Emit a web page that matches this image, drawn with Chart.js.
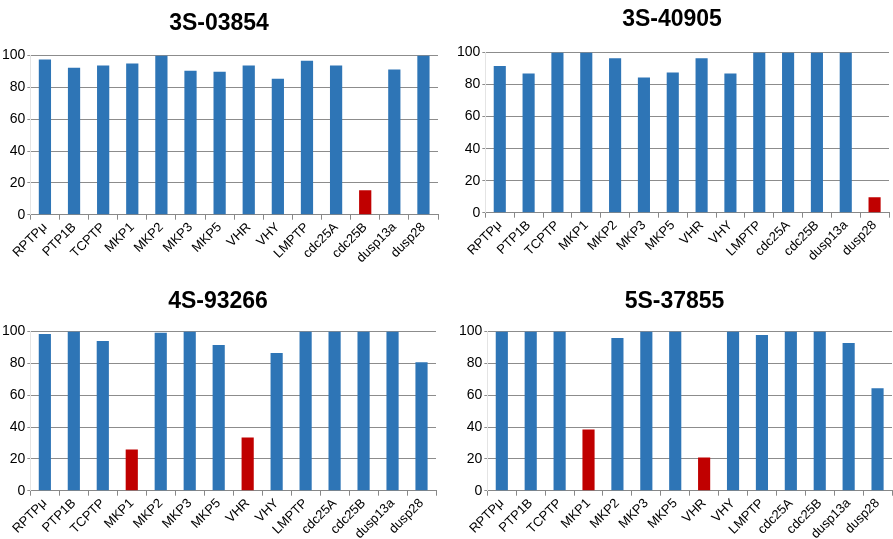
<!DOCTYPE html>
<html lang="en">
<head>
<meta charset="UTF-8">
<title>Inhibition per phosphatase</title>
<script src="https://cdn.jsdelivr.net/npm/chart.js"></script>
<style>
  body { margin: 0; background: #fff; overflow: hidden; }
  .panel { position: absolute; }
</style>
</head>
<body>
<div class="panel" style="left:0;top:0;width:446px;height:270px"><canvas id="c1"></canvas></div>
<div class="panel" style="left:446px;top:0;width:447px;height:270px"><canvas id="c2"></canvas></div>
<div class="panel" style="left:0;top:270px;width:446px;height:272px"><canvas id="c3"></canvas></div>
<div class="panel" style="left:446px;top:270px;width:447px;height:272px"><canvas id="c4"></canvas></div>
<script>
// phosphatases on the x axis (same for all four panels)
var enzymes = ['RPTPμ', 'PTP1B', 'TCPTP', 'MKP1', 'MKP2', 'MKP3', 'MKP5', 'VHR', 'VHY', 'LMPTP', 'cdc25A', 'cdc25B', 'dusp13a', 'dusp28'];
var yTicks = [0, 20, 40, 60, 80, 100];

var titles = ['3S-03854', '3S-40905', '4S-93266', '5S-37855'];

// values
var vals03854 = [97.5, 92.4, 93.7, 95, 100, 90.5, 89.9, 93.7, 85.5, 96.8, 93.7, 15.4, 91.2, 100];
var vals40905 = [91.6, 87, 100, 100, 96.4, 84.5, 87.6, 96.4, 87, 100, 100, 100, 100, 9.6];
var vals93266 = [98.5, 100, 94.1, 25.9, 99.2, 100, 91.6, 33.5, 86.5, 100, 100, 100, 100, 80.8];
var vals37855 = [100, 100, 100, 38.5, 96, 100, 100, 20.8, 100, 97.9, 100, 100, 92.8, 64.4];

// bars highlighted in red (the hits)
var hits03854 = ['cdc25B'];
var hits40905 = ['dusp28'];
var hits93266 = ['MKP1', 'VHR'];
var hits37855 = ['MKP1', 'VHR'];

var BLUE = '#2E75B6';
var RED = '#C00000';
var FONT = '"Liberation Sans", Arial, sans-serif';

function makeChart(id, title, values, hits, pad, titlePad) {
    var colors = enzymes.map(function (e) { return hits.indexOf(e) >= 0 ? RED : BLUE; });
    return new Chart(document.getElementById(id), {
        type: 'bar',
        data: {
            labels: enzymes,
            datasets: [{
                data: values,
                backgroundColor: colors,
                barPercentage: 0.42,
                categoryPercentage: 1.0
            }]
        },
        options: {
            responsive: true,
            maintainAspectRatio: false,
            animation: false,
            layout: { padding: pad },
            plugins: {
                legend: { display: false },
                tooltip: { enabled: false },
                title: {
                    display: true,
                    text: title,
                    color: '#000',
                    font: { family: FONT, size: 23, weight: 'bold' },
                    padding: titlePad
                }
            },
            scales: {
                x: {
                    grid: { drawOnChartArea: false, tickLength: 5, color: '#888' },
                    border: { color: '#888' },
                    ticks: {
                        color: '#000',
                        font: { family: FONT, size: 13 },
                        minRotation: 45, maxRotation: 45,
                        padding: 0
                    }
                },
                y: {
                    min: 0, max: 100,
                    afterBuildTicks: function (axis) {
                        axis.ticks = yTicks.map(function (v) { return { value: v }; });
                    },
                    grid: { color: '#8c8c8c', tickLength: 3 },
                    border: { color: '#e4e4e4' },
                    ticks: {
                        color: '#000',
                        font: { family: FONT, size: 14 },
                        padding: 2
                    }
                }
            }
        }
    });
}

makeChart('c1', titles[0], vals03854, hits03854, { left: 0, right: 8, top: 0, bottom: 4 }, { top: 10, bottom: 18 });
makeChart('c2', titles[1], vals40905, hits40905, { left: 9, right: 4, top: 0, bottom: 6 }, { top: 6, bottom: 19 });
makeChart('c3', titles[2], vals93266, hits93266, { left: 0, right: 10, top: 0, bottom: 0 }, { top: 18, bottom: 16 });
makeChart('c4', titles[3], vals37855, hits37855, { left: 11, right: 1, top: 0, bottom: 0 }, { top: 18, bottom: 16 });
</script>
</body>
</html>
